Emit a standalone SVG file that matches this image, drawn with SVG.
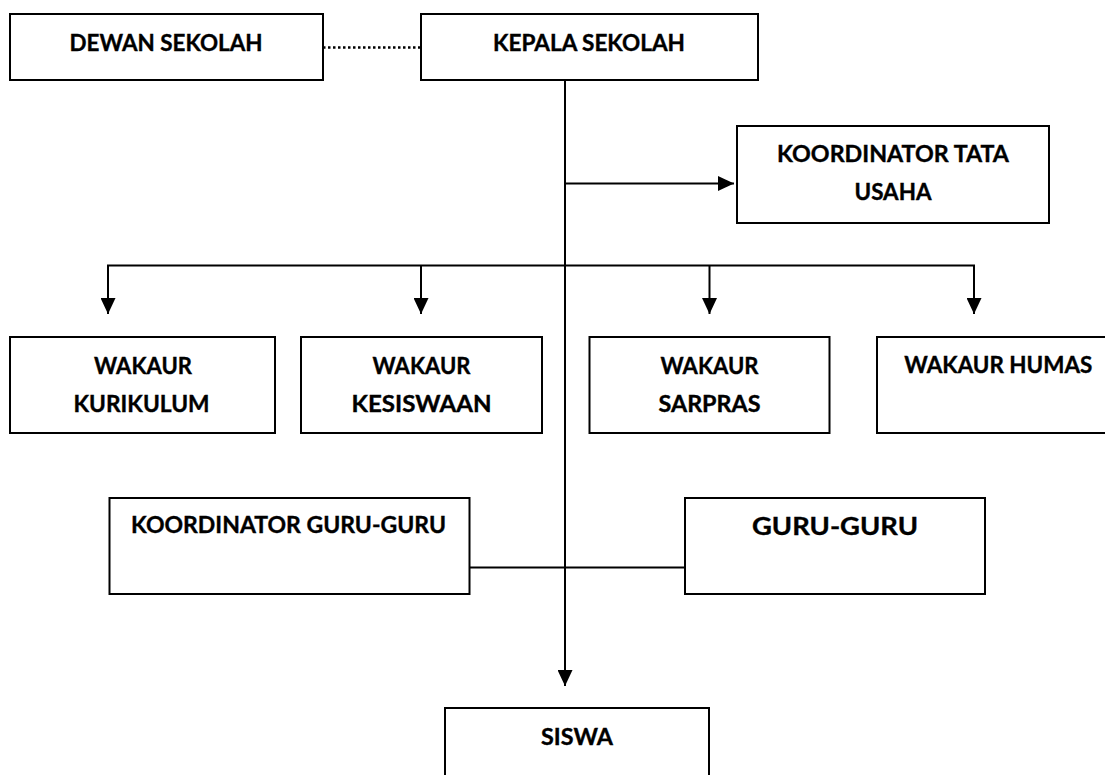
<svg xmlns="http://www.w3.org/2000/svg" width="1105" height="775" viewBox="0 0 1105 775">
<style>
.box{fill:#fff;stroke:#000;stroke-width:2}
.t{font-family:Lato,"Open Sans","Liberation Sans",sans-serif;font-weight:bold;font-size:22px;fill:#000;stroke:#000;stroke-width:0.35;text-anchor:middle}
.ln{fill:none;stroke:#000;stroke-width:2}
.dot{fill:none;stroke:#000;stroke-width:2.5;stroke-dasharray:2.5 2.5}
</style>
<defs>
<marker id="ah" viewBox="0 0 16 15" refX="16" refY="7.5" markerWidth="16" markerHeight="15" markerUnits="userSpaceOnUse" orient="auto">
<path d="M0,0 L16,7.5 L0,15 Z" fill="#000"/>
</marker>
</defs>
<rect width="1105" height="775" fill="#fff"/>
<g id="connectors">
<line class="dot" x1="323" y1="47.5" x2="421" y2="47.5"/>
<line class="ln" x1="565" y1="80" x2="565" y2="686" marker-end="url(#ah)"/>
<line class="ln" x1="565" y1="183.5" x2="734" y2="183.5" marker-end="url(#ah)"/>
<polyline class="ln" points="108,314 108,265.5 974,265.5 974,314"/>
<line class="ln" x1="108" y1="300" x2="108" y2="314" marker-end="url(#ah)"/>
<line class="ln" x1="974" y1="300" x2="974" y2="314" marker-end="url(#ah)"/>
<line class="ln" x1="421" y1="265.5" x2="421" y2="314" marker-end="url(#ah)"/>
<line class="ln" x1="709.5" y1="265.5" x2="709.5" y2="314" marker-end="url(#ah)"/>
<line class="ln" x1="469.5" y1="567.5" x2="685" y2="567.5"/>
</g>
<g id="dewan-sekolah">
<rect class="box" x="10" y="14" width="313" height="66"/>
<text class="t" x="166" y="51" textLength="193" lengthAdjust="spacingAndGlyphs">DEWAN SEKOLAH</text>
</g>
<g id="kepala-sekolah">
<rect class="box" x="421" y="14" width="337" height="66"/>
<text class="t" x="589" y="51" textLength="192" lengthAdjust="spacingAndGlyphs">KEPALA SEKOLAH</text>
</g>
<g id="koordinator-tata-usaha">
<rect class="box" x="737" y="126" width="312" height="97"/>
<text class="t" x="893" y="161.7" textLength="232" lengthAdjust="spacingAndGlyphs">KOORDINATOR TATA</text>
<text class="t" x="893" y="200" textLength="77" lengthAdjust="spacingAndGlyphs">USAHA</text>
</g>
<g id="wakaur-kurikulum">
<rect class="box" x="10" y="337" width="265" height="96"/>
<text class="t" x="143" y="374" textLength="98" lengthAdjust="spacingAndGlyphs">WAKAUR</text>
<text class="t" x="141.5" y="411.7" textLength="136" lengthAdjust="spacingAndGlyphs">KURIKULUM</text>
</g>
<g id="wakaur-kesiswaan">
<rect class="box" x="301" y="337" width="241" height="96"/>
<text class="t" x="421.5" y="374" textLength="98" lengthAdjust="spacingAndGlyphs">WAKAUR</text>
<text class="t" x="421.5" y="411.7" textLength="140" lengthAdjust="spacingAndGlyphs">KESISWAAN</text>
</g>
<g id="wakaur-sarpras">
<rect class="box" x="589.5" y="337" width="240" height="96"/>
<text class="t" x="709.5" y="374" textLength="98" lengthAdjust="spacingAndGlyphs">WAKAUR</text>
<text class="t" x="709.5" y="411.7" textLength="102" lengthAdjust="spacingAndGlyphs">SARPRAS</text>
</g>
<g id="wakaur-humas">
<rect class="box" x="877" y="337" width="250" height="96"/>
<text class="t" x="998.3" y="372.7" textLength="188" lengthAdjust="spacingAndGlyphs">WAKAUR HUMAS</text>
</g>
<g id="koordinator-guru-guru">
<rect class="box" x="109.5" y="498" width="360" height="96"/>
<text class="t" x="288.5" y="533.3" textLength="315" lengthAdjust="spacingAndGlyphs">KOORDINATOR GURU-GURU</text>
</g>
<g id="guru-guru">
<rect class="box" x="685" y="498" width="300" height="96"/>
<text class="t" x="835" y="535" style="font-size:24px" textLength="166" lengthAdjust="spacingAndGlyphs">GURU-GURU</text>
</g>
<g id="siswa">
<rect class="box" x="445" y="708" width="264" height="80"/>
<text class="t" x="577" y="745" textLength="72" lengthAdjust="spacingAndGlyphs">SISWA</text>
</g>
</svg>
